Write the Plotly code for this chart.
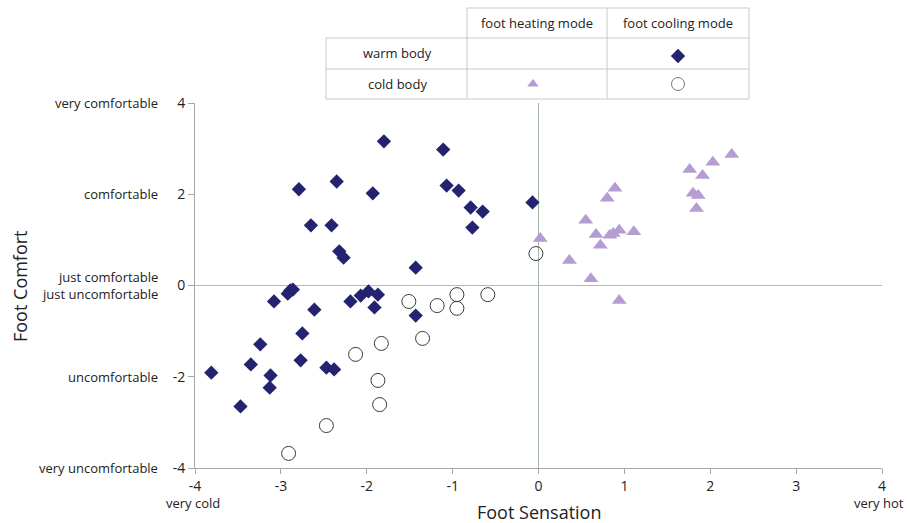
import plotly.graph_objects as go

# ---------------- data ----------------
# warm body, foot cooling mode (diamonds)
warm_cool_x = [-3.81, -3.47, -3.35, -3.24, -3.12, -3.13, -3.08, -2.92, -2.89, -2.86,
               -2.79, -2.75, -2.77, -2.65, -2.61, -2.47, -2.38, -2.41, -2.35, -2.32,
               -2.27, -2.19, -2.07, -1.98, -1.87, -1.91, -1.93, -1.80, -1.43, -1.43,
               -1.11, -1.07, -0.93, -0.79, -0.65, -0.77, -0.07]
warm_cool_y = [-1.91, -2.65, -1.73, -1.29, -1.97, -2.24, -0.35, -0.18, -0.11, -0.09,
               2.11, -1.05, -1.64, 1.32, -0.53, -1.80, -1.84, 1.32, 2.28, 0.75,
               0.61, -0.35, -0.22, -0.13, -0.20, -0.48, 2.02, 3.16, 0.39, -0.66,
               2.98, 2.19, 2.08, 1.71, 1.62, 1.27, 1.82]

# cold body, foot cooling mode (open circles)
cold_cool_x = [-1.51, -1.18, -0.95, -0.95, -0.59, -1.83, -1.35, -2.13, -1.87, -1.85,
               -2.47, -2.91, -0.03]
cold_cool_y = [-0.35, -0.44, -0.20, -0.50, -0.20, -1.27, -1.16, -1.51, -2.08, -2.61,
               -3.07, -3.68, 0.70]

# cold body, foot heating mode (triangles)
cold_heat_x = [0.02, 0.36, 0.55, 0.61, 0.67, 0.72, 0.80, 0.89, 0.83, 0.87,
               0.94, 0.94, 1.11, 1.76, 1.91, 2.03, 1.80, 1.86, 1.84, 2.25]
cold_heat_y = [1.03, 0.55, 1.43, 0.15, 1.12, 0.88, 1.91, 2.13, 1.10, 1.14,
               1.21, -0.33, 1.18, 2.54, 2.41, 2.70, 2.02, 1.97, 1.69, 2.87]

x_ticks = [-4, -3, -2, -1, 0, 1, 2, 3, 4]
x_tick_text = ["-4", "-3", "-2", "-1", "0", "1", "2", "3", "4"]
y_ticks = [4, 2, 0, -2, -4]
y_tick_text = ["4", "2", "0", "-2", "-4"]
y_descr = ["very comfortable", "comfortable", "just comfortable<br>just uncomfortable",
           "uncomfortable", "very uncomfortable"]
x_end_labels = ["very cold", "very hot"]
row_labels = ["warm body", "cold body"]
col_labels = ["foot heating mode", "foot cooling mode"]

# ---------------- styling ----------------
W, H = 908, 523
FONT = "Open Sans"
NAVY = "#23236f"
LILAC = "#b59cd3"
RING = "#3a3a3a"
AXIS = "#a8a8a8"
GRID = "#c9c9c9"

def px(x):
    return x / W

def py(y):
    return 1 - y / H

# plot area in pixels
L, R, T, B = 195, 882, 103, 468

fig = go.Figure()

fig.add_trace(go.Scatter(x=warm_cool_x, y=warm_cool_y, mode="markers",
                         marker=dict(symbol="diamond", size=11, color=NAVY),
                         showlegend=False, cliponaxis=False))
fig.add_trace(go.Scatter(x=cold_cool_x, y=cold_cool_y, mode="markers",
                         marker=dict(symbol="circle", size=14, color="rgba(255,255,255,0)",
                                     line=dict(color=RING, width=1)),
                         showlegend=False, cliponaxis=False))
fig.add_trace(go.Scatter(x=cold_heat_x, y=cold_heat_y, mode="markers",
                         marker=dict(symbol="triangle-up", size=13, color=LILAC),
                         showlegend=False, cliponaxis=False))

# legend keys in table (pixel axes)
fig.add_trace(go.Scatter(x=[678], y=[56], mode="markers", xaxis="x2", yaxis="y2",
                         marker=dict(symbol="diamond", size=11, color=NAVY), showlegend=False))
fig.add_trace(go.Scatter(x=[533], y=[84], mode="markers", xaxis="x2", yaxis="y2",
                         marker=dict(symbol="triangle-up", size=10, color=LILAC), showlegend=False))
fig.add_trace(go.Scatter(x=[678], y=[84], mode="markers", xaxis="x2", yaxis="y2",
                         marker=dict(symbol="circle", size=13, color="rgba(255,255,255,0)",
                                     line=dict(color="#777", width=1)), showlegend=False))

fig.update_layout(
    template="none",
    width=W, height=H,
    margin=dict(l=0, r=0, t=0, b=0, pad=0, autoexpand=False),
    paper_bgcolor="white", plot_bgcolor="rgba(0,0,0,0)",
    font=dict(family=FONT, color="#222", size=13),
    xaxis=dict(domain=[px(L), px(R)], range=[-4, 4], tickmode="array",
               tickvals=x_ticks, ticktext=x_tick_text, automargin=False,
               showgrid=False, zeroline=True, zerolinecolor="#a3b6a3", zerolinewidth=1,
               showline=True, linecolor=AXIS, linewidth=1,
               ticks="outside", ticklen=5, tickcolor=AXIS,
               tickfont=dict(size=14, family=FONT, color="#222"), anchor="y"),
    yaxis=dict(domain=[py(B), py(T)], range=[-4, 4], tickmode="array",
               tickvals=y_ticks, ticktext=y_tick_text, automargin=False,
               showgrid=False, zeroline=True, zerolinecolor="#b8b8b8", zerolinewidth=1,
               showline=True, linecolor=AXIS, linewidth=1,
               ticks="outside", ticklen=6, tickcolor=AXIS,
               tickfont=dict(size=14, family=FONT, color="#222"), anchor="x"),
    xaxis2=dict(domain=[0, 1], range=[0, W], visible=False, anchor="y2",
                fixedrange=True, automargin=False),
    yaxis2=dict(domain=[0, 1], range=[H, 0], visible=False, anchor="x2",
                fixedrange=True, automargin=False),
)

TXT = dict(size=13, family=FONT, color="#222")
ann = []
# y descriptions
for v, t in zip(y_ticks, y_descr):
    ann.append(dict(x=px(160), xref="paper", y=v, yref="y", text=t, showarrow=False,
                    xanchor="right", yanchor="middle", align="right", font=TXT))
# x end labels
ann.append(dict(x=px(193), xref="paper", y=py(503), yref="paper", text=x_end_labels[0], showarrow=False,
                xanchor="center", yanchor="middle", font=TXT))
ann.append(dict(x=px(906), xref="paper", y=py(503), yref="paper", text=x_end_labels[1], showarrow=False,
                xanchor="right", yanchor="middle", font=TXT))
# axis titles
ann.append(dict(x=0, xref="x", y=py(512), yref="paper", text="Foot Sensation", showarrow=False,
                xanchor="center", yanchor="middle", font=dict(size=18, family=FONT, color="#222")))
ann.append(dict(x=px(20), xref="paper", y=py(286), yref="paper", text="Foot Comfort", showarrow=False,
                textangle=-90, xanchor="center", yanchor="middle",
                font=dict(size=18, family=FONT, color="#222")))
# table text
for cx, cy, t in [(537, 23, col_labels[0]), (678, 23, col_labels[1]),
                  (397, 53, row_labels[0]), (397, 84, row_labels[1])]:
    ann.append(dict(x=px(cx), y=py(cy), xref="paper", yref="paper", text=t, showarrow=False,
                    xanchor="center", yanchor="middle", font=TXT))
fig.update_layout(annotations=ann)

# table grid lines (pixel positions)
shapes = []
def hline(x0, x1, y):
    shapes.append(dict(type="line", xref="paper", yref="paper", x0=px(x0), x1=px(x1),
                       y0=py(y), y1=py(y), line=dict(color=GRID, width=1)))
def vline(x, y0, y1):
    shapes.append(dict(type="line", xref="paper", yref="paper", x0=px(x), x1=px(x),
                       y0=py(y0), y1=py(y1), line=dict(color=GRID, width=1)))
hline(467, 749, 8)
hline(326, 749, 38)
hline(326, 749, 69)
hline(326, 749, 99)
vline(467, 8, 99)
vline(607, 8, 99)
vline(749, 8, 99)
vline(326, 38, 99)
fig.update_layout(shapes=shapes)

fig.write_html("out.html", config={"displayModeBar": False},
               post_script="document.body.style.margin='0';document.body.style.overflow='hidden';")
